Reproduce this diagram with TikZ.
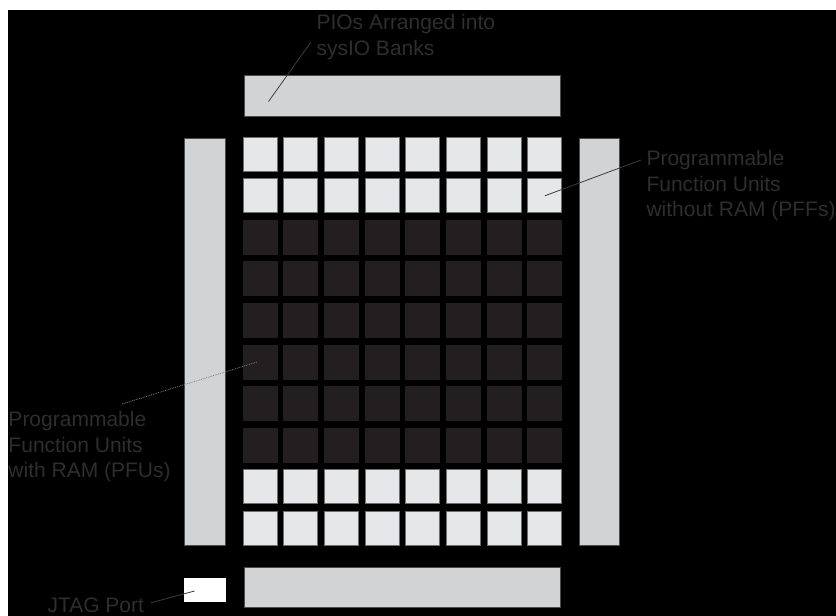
\documentclass[tikz,border=0pt]{standalone}
\usepackage{fontspec}
\setmainfont{Liberation Sans}
\usepackage{tikz}
\usetikzlibrary{matrix}
\definecolor{pffgray}{HTML}{E6E7E8}
\definecolor{iogray}{HTML}{D1D3D4}
\definecolor{pfudark}{HTML}{231F20}
\definecolor{rimgray}{HTML}{6D6E71}
\definecolor{lblgray}{HTML}{2E2E2E}
\definecolor{leadgray}{HTML}{3C3C3C}

\begin{document}
\begin{tikzpicture}[x=1pt,y=-1pt,
	pff/.style={draw=rimgray,fill=pffgray,line width=1pt,minimum width=34pt,minimum height=34pt,inner sep=0pt},
	pfu/.style={draw=pfudark,fill=pfudark,line width=1pt,minimum width=34pt,minimum height=34pt,inner sep=0pt},
	bank/.style={draw=rimgray!70!black,fill=iogray,line width=1pt,inner sep=0pt,outer sep=0pt},
	lbl/.style={text=lblgray,font=\fontsize{21}{25.5}\selectfont,align=left,inner sep=0pt,outer sep=0pt},
	lead/.style={draw=leadgray,line width=0.8pt}]
\useasboundingbox (0,0) rectangle (836,616);
\fill[black] (8,10) rectangle (836,616);
\matrix (m) at (242.5,136.7) [matrix of nodes, nodes in empty cells, anchor=north west, inner sep=0pt, outer sep=0pt,
	column sep=5.7pt, row sep=6.57pt, nodes={pfu},
	row 1/.style={nodes={pff}}, row 2/.style={nodes={pff}},
	row 9/.style={nodes={pff}}, row 10/.style={nodes={pff}}]
{
	&&&&&&& \\
	&&&&&&& \\
	&&&&&&& \\
	&&&&&&& \\
	&&&&&&& \\
	&&&&&&& \\
	&&&&&&& \\
	&&&&&&& \\
	&&&&&&& \\
	&&&&&&& \\
};
\node[bank,minimum width=316pt,minimum height=40.6pt] (topio) at (402.5,96.2) {};
\node[bank,minimum width=316pt,minimum height=40pt] (botio) at (402.3,587.5) {};
\node[bank,minimum width=41pt,minimum height=407.5pt] (leftio) at (205,341.8) {};
\node[bank,minimum width=40pt,minimum height=407pt] (rightio) at (599.7,341.5) {};
\node[fill=white,inner sep=0pt,outer sep=0pt,minimum width=42pt,minimum height=24pt] (port) at (205,590) {};

\node[lbl,anchor=north west] (pio) at (316.5,14.7) {PIOs Arranged into\\sysIO Banks};
\node[lbl,anchor=north west] (pffl) at (646.5,150.4) {Programmable\\Function Units\\without RAM (PFFs)};
\node[lbl,anchor=north west] (pful) at (8.5,411.4) {Programmable\\Function Units\\with RAM (PFUs)};
\node[lbl,anchor=base west] (jtag) at (47.5,612) {JTAG Port};

\draw[lead] ([shift={(-5.5,27.3)}]pio.north west) -- ([shift={(24,25.6)}]topio.north west);
\draw[lead] ([shift={(-5.5,9.6)}]pffl.north west) -- (m-2-8.center);
\draw[lead,draw=gray,densely dotted] ([shift={(113.5,-7.4)}]pful.north west) -- ([xshift=-3pt]m-6-1.center);
\draw[lead] ([shift={(7,-2)}]jtag.east) -- ([shift={(10.5,1)}]port.west);
\end{tikzpicture}
\end{document}
